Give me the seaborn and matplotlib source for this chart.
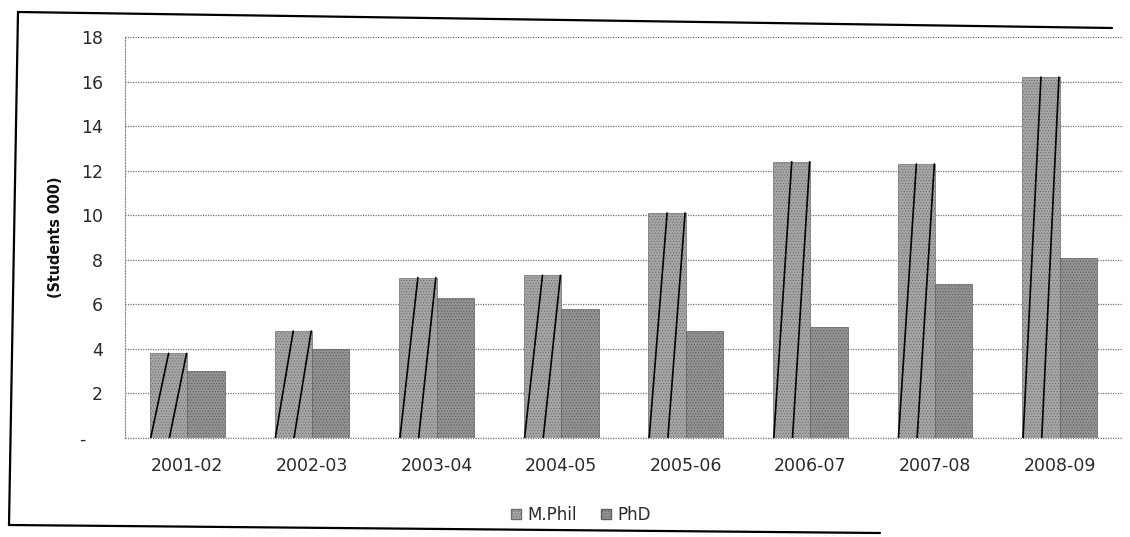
import matplotlib
matplotlib.use("Agg")
import matplotlib.pyplot as plt
from matplotlib.lines import Line2D
from matplotlib.patches import Patch
import pandas as pd
import seaborn as sns

# Enrolment in thousands of students by academic year
years = ["2001-02", "2002-03", "2003-04", "2004-05",
         "2005-06", "2006-07", "2007-08", "2008-09"]
mphil = [3.8, 4.8, 7.2, 7.3, 10.1, 12.4, 12.3, 16.2]
phd = [3.0, 4.0, 6.3, 5.8, 4.8, 5.0, 6.9, 8.1]
programs = ["M.Phil", "PhD"]
y_ticks = [0, 2, 4, 6, 8, 10, 12, 14, 16, 18]
y_tick_labels = ["-   ", "2", "4", "6", "8", "10", "12", "14", "16", "18"]

df = pd.DataFrame({
    "year": years * 2,
    "program": [programs[0]] * len(years) + [programs[1]] * len(years),
    "students": mphil + phd,
})

sns.set_theme(style="white")
plt.rcParams["font.family"] = ["DejaVu Sans"]
plt.rcParams["hatch.linewidth"] = 0.5

fig = plt.figure(figsize=(11.3, 5.37), dpi=100)
ax = fig.add_axes([125 / 1130, 1 - 438 / 537, 997 / 1130, 401 / 537])

colors = {"M.Phil": "#a6a6a6", "PhD": "#939393"}
hatch_colors = {"M.Phil": "#6e6e6e", "PhD": "#5f5f5f"}
sns.barplot(data=df, x="year", y="students", hue="program",
            order=years, hue_order=programs, palette=colors,
            width=0.6, saturation=1, legend=False, ax=ax, zorder=3)

# grainy texture and steep diagonal strokes on the M.Phil bars
for cont, prog in zip(ax.containers, programs):
    for p in cont.patches:
        p.set_edgecolor(hatch_colors[prog])
        p.set_linewidth(0.5)
        p.set_hatch("......")
        if prog == "M.Phil":
            x0, w, h = p.get_x(), p.get_width(), p.get_height()
            ax.plot([x0 + 0.02 * w, x0 + 0.5 * w], [0, h],
                    color="black", lw=1.2, zorder=4)
            ax.plot([x0 + 0.52 * w, x0 + 0.98 * w], [0, h],
                    color="black", lw=1.2, zorder=4)

ax.set_xlim(-0.5, len(years) - 0.5)
ax.set_ylim(0, 18)
ax.set_yticks(y_ticks)
ax.set_yticklabels(y_tick_labels)
ax.yaxis.grid(True, linestyle=(0, (1, 1)), color="#777777", lw=0.9, zorder=0)
ax.axhline(0, linestyle=(0, (1, 1)), color="#777777", lw=0.9, zorder=2, clip_on=False)
ax.xaxis.grid(False)
for s in ["top", "right", "bottom"]:
    ax.spines[s].set_visible(False)
ax.spines["left"].set_linestyle((0, (1, 1.5)))
ax.spines["left"].set_color("#888888")
ax.spines["left"].set_linewidth(0.8)
ax.tick_params(axis="both", length=0, labelsize=12.5, labelcolor="#2a2a2a")
ax.tick_params(axis="y", pad=16)
ax.tick_params(axis="x", pad=14)
ax.set_xlabel("")
ax.set_ylabel("(Students 000)", fontsize=11.5, fontweight="bold",
              fontstretch="condensed", color="#111111", labelpad=12)

handles = [Patch(facecolor=colors[p], edgecolor=hatch_colors[p], hatch="......")
           for p in programs]
fig.legend(handles, programs, loc="center", bbox_to_anchor=(581 / 1130, 1 - 515 / 537),
           ncol=2, frameon=False, fontsize=12, handlelength=0.6, handleheight=0.6,
           handletextpad=0.4, columnspacing=1.4, labelcolor="#2a2a2a",
           borderpad=0.1)

# outer frame of the figure
W, H = 1130, 537
frame = [((18, 12), (1112, 28)), ((18, 12), (9, 525)), ((9, 525), (880, 533))]
for (xa, ya), (xb, yb) in frame:
    fig.add_artist(Line2D([xa / W, xb / W], [1 - ya / H, 1 - yb / H],
                          transform=fig.transFigure, color="black", lw=1.6))

fig.savefig("out.png", dpi=100, facecolor="white")
